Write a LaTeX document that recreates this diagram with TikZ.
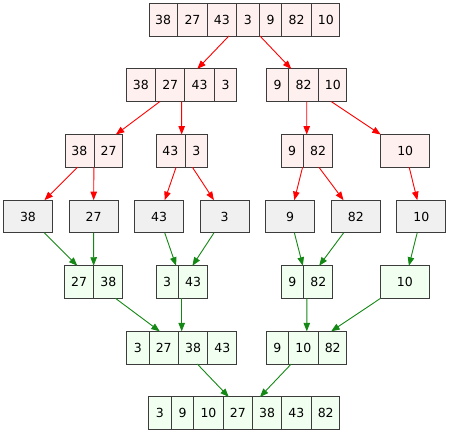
\documentclass[tikz,border=0pt]{standalone}
\usepackage{fontspec}
\setmainfont{DejaVu Sans}
\usepackage{tikz}
\usetikzlibrary{shapes,arrows.meta}
\usepackage{xcolor}

\definecolor{splitfill}{RGB}{255,240,240}
\definecolor{leaffill}{RGB}{240,240,240}
\definecolor{mergefill}{RGB}{240,255,240}
\definecolor{boxline}{RGB}{60,60,60}
\definecolor{splitred}{RGB}{255,0,0}
\definecolor{mergegreen}{RGB}{20,136,20}

% one cell of an array record
\newcommand{\cell}[1]{\makebox[\ifnum#1<10 21.7pt\else 28.3pt\fi]{\rule[-12pt]{0pt}{32.7pt}#1}}

\begin{document}
\begin{tikzpicture}[x=1pt,y=-1pt,
        font=\fontsize{12.5}{14}\selectfont,
        rec/.style={draw=boxline,line width=1pt,inner sep=0pt,outer sep=0pt,
                    rectangle split,rectangle split horizontal,rectangle split parts=#1},
        box/.style={draw=boxline,line width=1pt,inner sep=0pt,outer sep=0pt,
                    minimum width=49pt,minimum height=32.7pt},
        splitrec/.style={rec=#1,fill=splitfill},
        mergerec/.style={rec=#1,fill=mergefill},
        splitbox/.style={box,fill=splitfill},
        leafbox/.style={box,fill=leaffill},
        mergebox/.style={box,fill=mergefill},
        splitarrow/.style={-{Triangle[length=8.5pt,width=6.5pt]},line width=0.9pt,color=splitred},
        mergearrow/.style={-{Triangle[length=8.5pt,width=6.5pt]},line width=0.9pt,color=mergegreen}
    ]
        \useasboundingbox (0,0) rectangle (450,434);

        % Nodes: splitting
        \node[splitrec=7] (all) at (244.5,19.7) {\cell{38}\nodepart{two}\cell{27}\nodepart{three}\cell{43}\nodepart{four}\cell{3}\nodepart{five}\cell{9}\nodepart{six}\cell{82}\nodepart{seven}\cell{10}};
        \node[splitrec=4] (left) at (181.6,85.3) {\cell{38}\nodepart{two}\cell{27}\nodepart{three}\cell{43}\nodepart{four}\cell{3}};
        \node[splitrec=3] (right) at (306.8,85.3) {\cell{9}\nodepart{two}\cell{82}\nodepart{three}\cell{10}};
        \node[splitrec=2] (ll) at (94,150.9) {\cell{38}\nodepart{two}\cell{27}};
        \node[splitrec=2] (lr) at (181.7,150.9) {\cell{43}\nodepart{two}\cell{3}};
        \node[splitrec=2] (rl) at (306.7,150.9) {\cell{9}\nodepart{two}\cell{82}};
        \node[splitbox] (rr) at (405.2,150.9) {10};

        % Nodes: single elements
        \foreach \v [count=\i] in {38,27,43,3,9,82,10}
            \node[leafbox] (leaf\i) at ({28+65.55*(\i-1)},216.5) {\v};

        % Nodes: merging
        \node[mergerec=2] (m1) at (93.7,282.1) {\cell{27}\nodepart{two}\cell{38}};
        \node[mergerec=2] (m2) at (181.7,282.1) {\cell{3}\nodepart{two}\cell{43}};
        \node[mergerec=2] (m3) at (307,282.1) {\cell{9}\nodepart{two}\cell{82}};
        \node[mergebox] (m4) at (404.8,282.1) {10};
        \node[mergerec=4] (m12) at (181.7,347.7) {\cell{3}\nodepart{two}\cell{27}\nodepart{three}\cell{38}\nodepart{four}\cell{43}};
        \node[mergerec=3] (m34) at (306.7,347.7) {\cell{9}\nodepart{two}\cell{10}\nodepart{three}\cell{82}};
        \node[mergerec=7] (sorted) at (244.4,413.3) {\cell{3}\nodepart{two}\cell{9}\nodepart{three}\cell{10}\nodepart{four}\cell{27}\nodepart{five}\cell{38}\nodepart{six}\cell{43}\nodepart{seven}\cell{82}};

        % Arrows: splitting
        \draw[splitarrow] (all) -- (left);
        \draw[splitarrow] (all) -- (right);
        \draw[splitarrow] (left) -- (ll);
        \draw[splitarrow] (left) -- (lr);
        \draw[splitarrow] (right) -- (rl);
        \draw[splitarrow] (right) -- (rr);
        \draw[splitarrow] (ll) -- (leaf1);
        \draw[splitarrow] (ll) -- (leaf2);
        \draw[splitarrow] (lr) -- (leaf3);
        \draw[splitarrow] (lr) -- (leaf4);
        \draw[splitarrow] (rl) -- (leaf5);
        \draw[splitarrow] (rl) -- (leaf6);
        \draw[splitarrow] (rr) -- (leaf7);

        % Arrows: merging
        \draw[mergearrow] (leaf1) -- (m1);
        \draw[mergearrow] (leaf2) -- (m1);
        \draw[mergearrow] (leaf3) -- (m2);
        \draw[mergearrow] (leaf4) -- (m2);
        \draw[mergearrow] (leaf5) -- (m3);
        \draw[mergearrow] (leaf6) -- (m3);
        \draw[mergearrow] (leaf7) -- (m4);
        \draw[mergearrow] (m1) -- (m12);
        \draw[mergearrow] (m2) -- (m12);
        \draw[mergearrow] (m3) -- (m34);
        \draw[mergearrow] (m4) -- (m34);
        \draw[mergearrow] (m12) -- (sorted);
        \draw[mergearrow] (m34) -- (sorted);
    \end{tikzpicture}
\end{document}
